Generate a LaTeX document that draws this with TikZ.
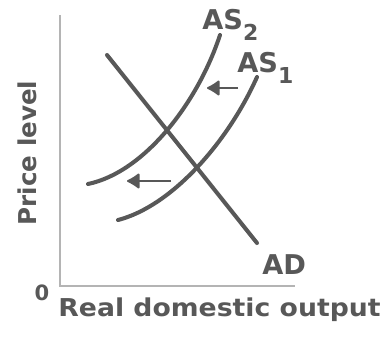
\documentclass[tikz,border=0pt]{standalone}
\definecolor{curvegray}{RGB}{88,88,88}
\definecolor{axisgray}{RGB}{180,180,180}
\usepackage{fontspec}
\setmainfont{DejaVu Sans}
\usetikzlibrary{arrows.meta,positioning}
\newcommand{\subdigit}[1]{\raisebox{-0.22cm}{\fontsize{12.5}{12.5}\selectfont #1}}

\begin{document}
\begin{tikzpicture}[x=0.02cm,y=-0.02cm,
    curve/.style={draw=curvegray, line width=2.3pt, line cap=round},
    shiftarrow/.style={draw=curvegray, line width=1.1pt, -{Latex[length=8pt,width=10pt,round]}},
    lab/.style={text=curvegray, font=\bfseries\fontsize{15.5}{15.5}\selectfont, inner sep=0pt},
    axislab/.style={text=curvegray, font=\bfseries\fontsize{14}{14}\selectfont, inner sep=0pt}]
  \useasboundingbox (0,0) rectangle (392,336);
  % axes
  \coordinate (top) at (60,15);
  \coordinate (origin) at (60,286);
  \coordinate (right) at (295,286);
  \draw[axisgray, line width=0.6pt] (top) -- (origin) -- (right);
  \node[axislab, font=\bfseries\fontsize{12}{12}\selectfont, anchor=base] (zero) at (42,300) {0};
  \node[axislab, anchor=base west, xscale=1.085] (xlab) at (58,316) {Real domestic output};
  \node[axislab, rotate=90] (ylab) at (27,153) {Price level};
  % curves
  \coordinate (ad1) at (107,55);
  \coordinate (ad2) at (257,243);
  \draw[curve] (ad1) -- (ad2);
  \coordinate (as2a) at (88,184);
  \coordinate (as2b) at (220,35);
  \draw[curve] (as2a) .. controls (145,172) and (198,102) .. (as2b);
  \coordinate (as1a) at (118,220);
  \coordinate (as1b) at (257,77);
  \draw[curve] (as1a) .. controls (172,206) and (228,142) .. (as1b);
  % labels
  \node[lab, anchor=base west] (AS2) at (202,29) {AS\subdigit{2}};
  \node[lab, anchor=base west] (AS1) at (237,72) {AS\subdigit{1}};
  \node[lab, anchor=base west] (AD) at (262,274) {AD};
  % shift arrows
  \coordinate (s1a) at (238,88);
  \coordinate (s1b) at (207,88);
  \draw[shiftarrow] (s1a) -- (s1b);
  \coordinate (s2a) at (171,181);
  \coordinate (s2b) at (127,181);
  \draw[shiftarrow] (s2a) -- (s2b);
\end{tikzpicture}
\end{document}
